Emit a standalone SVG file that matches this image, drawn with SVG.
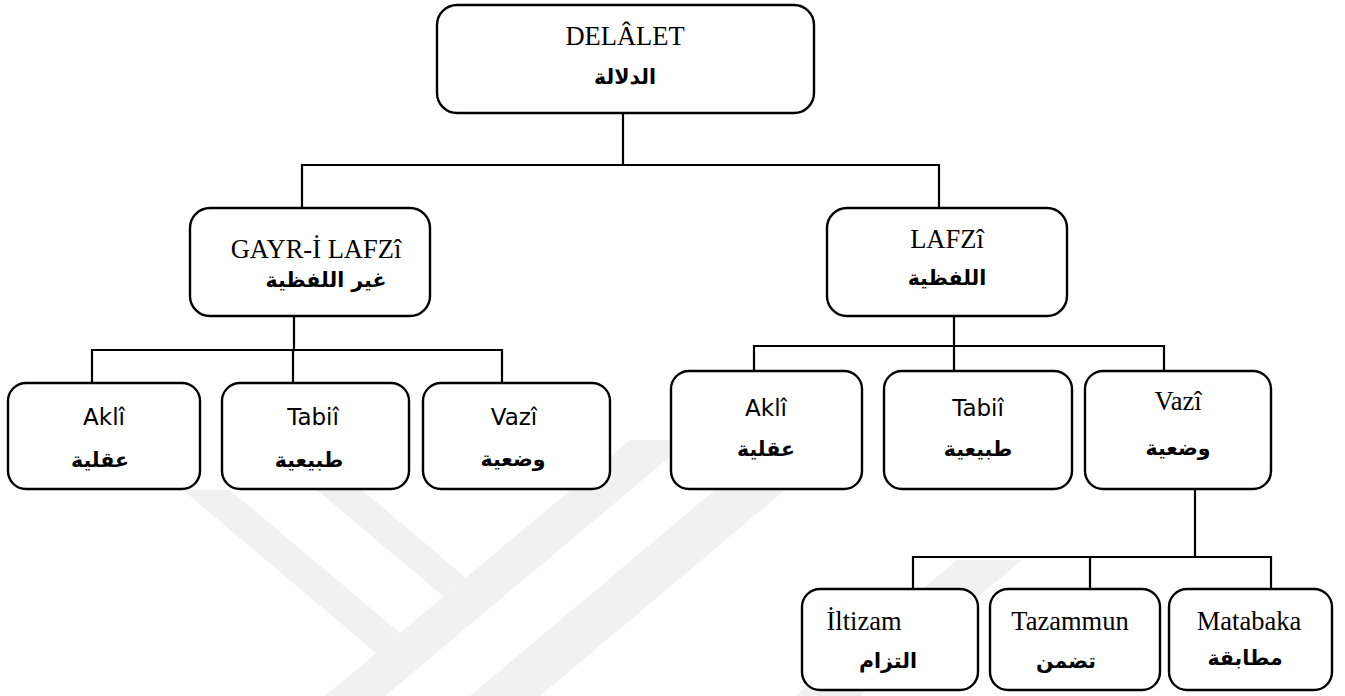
<svg xmlns="http://www.w3.org/2000/svg" width="1345" height="696" viewBox="0 0 1345 696">
<style>
.box{fill:#fff;stroke:#000;stroke-width:2.4}
.wm{fill:#f1f1f1;stroke:none}
.con{fill:none;stroke:#000;stroke-width:2.2;stroke-linecap:square;stroke-linejoin:miter}
.en{font-family:"Liberation Serif","Times New Roman",serif;font-size:26.5px;fill:#000;text-anchor:middle}
.sn{font-family:"DejaVu Sans",Verdana,sans-serif;font-size:23px;fill:#000;text-anchor:middle}
.ar{font-family:"DejaVu Sans",sans-serif;font-weight:bold;font-size:20.5px;fill:#000;text-anchor:middle}
</style>
<rect width="1345" height="696" fill="#fff"/>
<g id="watermark">
<polygon class="wm" points="325,696 385,696 690,440 630,440"/>
<polygon class="wm" points="183,490 230,490 400,633 376,653"/>
<polygon class="wm" points="317,490 362,490 466,578 443,596"/>
<polygon class="wm" points="470,696 540,696 786,489 716,489"/>
<polygon class="wm" points="795,696 860,696 1022,560 957,560"/>
</g>
<g id="connectors">
<path class="con" d="M623,113 V165 M302,165 H939 M302,165 V208 M939,165 V208"/>
<path class="con" d="M294,316 V350 M92,350 H502 M92,350 V383 M293,350 V383 M502,350 V383"/>
<path class="con" d="M954,316 V346 M754,346 H1164 M754,346 V371 M954,346 V371 M1164,346 V371"/>
<path class="con" d="M1195,489 V557 M913,557 H1271 M913,557 V589 M1090,557 V589 M1271,557 V589"/>
</g>
<g id="n-delalet">
<rect class="box" x="437" y="5" width="377" height="108" rx="20"/>
<text class="en" x="625" y="45">DELÂLET</text>
<text class="ar" x="625" y="84">الدلالة</text>
</g>
<g id="n-gayr">
<rect class="box" x="190" y="208" width="240" height="108" rx="20"/>
<text class="en" x="316" y="258">GAYR-İ LAFZî</text>
<text class="ar" x="326" y="287">غير اللفظية</text>
</g>
<g id="n-lafzi">
<rect class="box" x="827" y="208" width="240" height="108" rx="20"/>
<text class="en" x="947" y="248">LAFZî</text>
<text class="ar" x="947" y="285">اللفظية</text>
</g>
<g id="n-akli-1">
<rect class="box" x="8" y="383" width="192" height="106" rx="18"/>
<text class="sn" x="104" y="425">Aklî</text>
<text class="ar" x="100" y="467">عقلية</text>
</g>
<g id="n-tabii-1">
<rect class="box" x="222" y="383" width="187" height="106" rx="18"/>
<text class="sn" x="313" y="425">Tabiî</text>
<text class="ar" x="309" y="467">طبيعية</text>
</g>
<g id="n-vazi-1">
<rect class="box" x="423" y="383" width="187" height="106" rx="18"/>
<text class="sn" x="514" y="425">Vazî</text>
<text class="ar" x="513" y="466">وضعية</text>
</g>
<g id="n-akli-2">
<rect class="box" x="671" y="371" width="191" height="118" rx="18"/>
<text class="sn" x="766" y="416">Aklî</text>
<text class="ar" x="766" y="456">عقلية</text>
</g>
<g id="n-tabii-2">
<rect class="box" x="884" y="371" width="188" height="118" rx="18"/>
<text class="sn" x="978" y="416">Tabiî</text>
<text class="ar" x="978" y="456">طبيعية</text>
</g>
<g id="n-vazi-2">
<rect class="box" x="1085" y="371" width="186" height="118" rx="18"/>
<text class="en" x="1178" y="410">Vazî</text>
<text class="ar" x="1178" y="455">وضعية</text>
</g>
<g id="n-iltizam">
<rect class="box" x="802" y="589" width="176" height="101" rx="18"/>
<text class="en" x="864" y="630">İltizam</text>
<text class="ar" x="888" y="668">التزام</text>
</g>
<g id="n-tazammun">
<rect class="box" x="990" y="589" width="170" height="101" rx="18"/>
<text class="en" x="1070" y="630">Tazammun</text>
<text class="ar" x="1066" y="668">تضمن</text>
</g>
<g id="n-matabaka">
<rect class="box" x="1169" y="589" width="163" height="101" rx="18"/>
<text class="en" x="1249" y="630">Matabaka</text>
<text class="ar" x="1245" y="665">مطابقة</text>
</g>
</svg>
